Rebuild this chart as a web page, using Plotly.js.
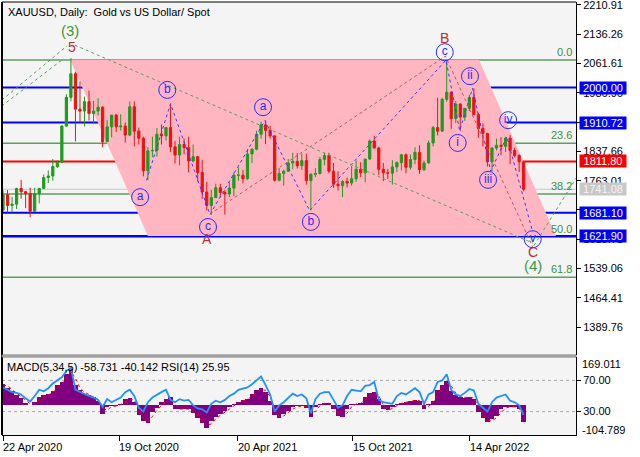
<!DOCTYPE html>
<html><head><meta charset="utf-8">
<script src="https://cdn.plot.ly/plotly-3.0.1.min.js"></script>
<style>html,body{margin:0;padding:0;background:#fff}#chart{width:640px;height:457px}</style>
</head><body><div id="chart"></div>
<script>
// ---- weekly bars (each bar centred on the Wednesday of its week) ----
const firstBar = '2020-04-22';
const opens = [1688,1727,1700,1703,1743,1735,1730,1685,1730,1743,
 1771,1775,1799,1810,1902,1975,2035,1945,1940,1964,
 1934,1940,1950,1862,1900,1930,1900,1902,1879,1951,
 1889,1871,1788,1839,1840,1881,1877,1898,1849,1828,
 1855,1847,1813,1824,1784,1734,1700,1720,1745,1733,
 1729,1744,1777,1777,1768,1831,1843,1881,1905,1891,
 1877,1764,1781,1787,1808,1812,1801,1814,1763,1779,
 1781,1817,1827,1787,1754,1750,1761,1757,1768,1792,
 1783,1818,1864,1846,1792,1783,1782,1798,1809,1829,
 1797,1817,1835,1791,1808,1859,1898,1889,1970,1988,
 1921,1958,1925,1947,1975,1931,1896,1883,1811,1846,
 1853,1850,1871,1840,1827,1811];
const highs = [1739,1739,1722,1745,1765,1737,1745,1745,1745,1779,
 1789,1818,1815,1904,1983,2075,2040,2015,1977,1992,
 1966,1973,1952,1917,1921,1933,1932,1911,1965,1965,
 1898,1875,1848,1875,1897,1906,1900,1959,1864,1875,
 1870,1875,1855,1826,1816,1760,1740,1755,1755,1740,
 1759,1784,1797,1790,1843,1845,1890,1913,1916,1903,
 1877,1795,1791,1818,1834,1833,1832,1832,1782,1795,
 1823,1834,1834,1808,1787,1764,1770,1800,1814,1810,
 1818,1868,1877,1849,1808,1793,1815,1812,1831,1832,
 1830,1848,1853,1814,1865,1902,1974,1974,2070,1990,
 1966,1960,1948,1982,1998,1936,1909,1885,1849,1870,
 1874,1875,1879,1847,1830,1813];
const lows = [1683,1681,1682,1691,1717,1693,1670,1685,1705,1743,
 1757,1763,1795,1807,1900,1965,1863,1911,1901,1916,
 1907,1929,1848,1862,1873,1887,1890,1860,1876,1850,
 1855,1774,1764,1823,1824,1855,1865,1836,1807,1802,
 1830,1784,1810,1760,1717,1687,1676,1719,1720,1677,
 1721,1723,1763,1756,1765,1808,1840,1870,1856,1870,
 1761,1761,1750,1786,1792,1794,1790,1753,1687,1772,
 1779,1802,1782,1745,1738,1721,1746,1750,1760,1772,
 1759,1816,1846,1778,1762,1767,1753,1785,1789,1782,
 1791,1805,1780,1788,1807,1850,1878,1888,1964,1895,
 1910,1890,1915,1940,1930,1872,1850,1799,1786,1840,
 1828,1836,1805,1822,1785,1736];
const closes = [1727,1700,1703,1743,1735,1730,1685,1730,1743,1771,
 1775,1799,1810,1902,1975,2035,1945,1940,1964,1934,
 1940,1950,1862,1900,1930,1900,1902,1879,1951,1889,
 1871,1788,1839,1840,1881,1877,1898,1849,1828,1855,
 1847,1813,1824,1784,1734,1700,1720,1745,1733,1729,
 1744,1777,1777,1768,1831,1843,1881,1905,1891,1877,
 1764,1781,1787,1808,1812,1801,1814,1763,1779,1781,
 1817,1827,1787,1754,1750,1761,1757,1768,1792,1783,
 1818,1864,1846,1792,1783,1782,1798,1809,1829,1797,
 1817,1835,1791,1808,1859,1898,1889,1970,1988,1921,
 1958,1925,1947,1975,1931,1896,1883,1811,1846,1853,
 1850,1871,1840,1827,1811,1741.08];
// ---- indicator window ----
const macdMain = [76,60,48,35,25,8,2,10,28,35,
 38,50,70,80,110,128,70,52,40,35,
 28,15,-30,-8,-3,-2,5,20,25,10,
 -35,-55,-62,-25,-10,10,20,30,-12,-15,
 -12,-15,-28,-45,-62,-80,-55,-40,-32,-20,
 -8,5,12,18,22,40,52,60,45,15,
 -35,-45,-30,-20,-8,-3,-2,-10,-40,-8,
 5,8,6,-15,-38,-40,-15,3,5,8,
 28,42,45,20,-15,-18,-8,5,8,12,
 15,18,15,-12,5,15,52,72,85,50,
 35,28,25,30,20,-25,-45,-60,-50,-38,
 -15,-6,-5,-8,-12,-58.731];
const macdSignal = [70,68,55,42,30,16,5,6,18,30,
 36,44,60,74,95,118,95,60,46,37,
 31,20,-10,-18,-5,-3,2,12,22,18,
 -15,-45,-58,-40,-18,0,15,24,5,-14,
 -13,-14,-22,-36,-54,-72,-66,-48,-36,-26,
 -14,-2,8,15,20,32,46,56,52,30,
 -12,-40,-38,-25,-14,-6,-3,-6,-25,-22,
 -2,6,7,-5,-26,-38,-28,-6,4,6,
 18,35,44,32,2,-16,-12,-2,6,10,
 13,16,16,2,-4,10,34,62,78,68,
 42,32,27,28,25,-2,-35,-52,-55,-45,
 -26,-10,-6,-6,-10,-40.142];
const rsi = [61,58,55,54,52,47,43,50,58,56,
 60,66,70,74,82,86,58,55,52,50,
 48,45,36,46,42,45,48,55,58,50,
 35,30,42,48,52,55,58,45,42,46,
 44,45,38,34,33,29,40,44,42,45,
 50,53,58,60,61,65,70,75,64,52,
 30,38,42,48,53,50,52,47,28,46,
 53,55,55,45,35,38,50,58,57,56,
 63,64,68,45,42,41,40,50,54,52,
 56,60,55,40,52,55,68,70,78,58,
 52,50,54,59,57,40,35,30,42,48,
 50,52,44,42,38,25.95];
// ---- axes ----
const priceTicks = [2210.91,2136.26,2061.61,1986.96,1912.31,1837.66,1763.01,1688.36,1613.71,1539.06,1464.41,1389.76];
const hiddenTicks = [1912.31, 1688.36]; // fully covered by level boxes in the reference
const dateTicks = ['2020-04-22','2020-10-19','2021-04-20','2021-10-15','2022-04-14'];
const dateTickText = ['22 Apr 2020','19 Oct 2020','20 Apr 2021','15 Oct 2021','14 Apr 2022'];
const rsiLevels = [70, 30];
const macdScale = [-104.789, 169.011];
// ---- horizontal levels ----
const levelPrices = [2000.00, 1910.72, 1811.80, 1741.08, 1681.10, 1621.90];
const levelColors = ['#0000ff','#0000ff','#ff0000','#c8c8c8','#0000ff','#0000ff'];
const fibNames = ['0.0','23.6','38.2','50.0','61.8'];
const fibPrices = [2070, 1858, 1729, 1619, 1517];
// ---- channel (pink) ----
const channelDates = ['2020-08-04','2022-04-28','2022-08-25','2020-12-02'];
const channelPrices = [2070, 2070, 1622, 1622];
// ---- wave labelling ----
const circleText = ['a','b','c','a','b','c','i','ii','iii','iv','v'];
const circleDates = ['2020-11-20','2021-01-01','2021-03-05','2021-05-29','2021-08-11','2022-03-06','2022-03-26','2022-04-14','2022-05-12','2022-06-12','2022-07-20'];
const circlePrices = [1721,1994,1645,1950,1658,2090,1859,2029,1765,1917,1614];
const waveText = ['(3)','5','B','A','C','(4)'];
const waveDates = ['2020-08-03','2020-08-06','2022-03-06','2021-03-03','2022-07-20','2022-07-20'];
const wavePrices = [2146,2103,2126,1614,1581,1546];
const waveColors = ['#3a9a40','#b8312f','#b8312f','#b8312f','#b8312f','#3a9a40'];
// sub-wave zigzag (blue dashed)
const zigDates = ['2020-11-30','2021-01-06','2021-03-08','2021-06-01','2021-08-09','2022-03-08','2022-03-29','2022-04-18','2022-05-16','2022-06-10','2022-07-20'];
const zigPrices = [1764,1959,1677,1916,1687,2070,1890,1998,1787,1875,1632];
// major-wave lines (brown dashed)
const majorDates = ['2021-03-08','2022-03-07','2022-07-20'];
const majorPrices = [1678,2080,1594];
// degree lines (green dashed): pairs
const greenLines = [
  [['2020-04-20',1968],['2020-07-30',2106]],
  [['2020-04-20',1953],['2020-07-22',2070]],
  [['2020-08-11',2108],['2022-07-20',1604]],
  [['2022-07-22',1598],['2022-09-26',1772]]
];

const DAY = 864e5;
const t0 = Date.parse(firstBar + 'T00:00:00Z');
const barDates = opens.map((_, k) => new Date(t0 + k * 7 * DAY).toISOString().slice(0, 10));

const traces = [];
traces.push({type:'candlestick', x: barDates, open: opens, high: highs, low: lows, close: closes,
  xaxis:'x', yaxis:'y', whiskerwidth: 0,
  increasing:{line:{color:'#1f9a1f', width:1}, fillcolor:'#1f9a1f'},
  decreasing:{line:{color:'#ee1111', width:1}, fillcolor:'#ee1111'},
  hoverinfo:'skip'});
traces.push({type:'scatter', mode:'lines', x: zigDates, y: zigPrices, xaxis:'x', yaxis:'y',
  line:{color:'#3a3aff', width:1, dash:'3px,3px'}, hoverinfo:'skip'});
traces.push({type:'scatter', mode:'lines', x: majorDates, y: majorPrices, xaxis:'x', yaxis:'y',
  line:{color:'#b85a5a', width:1, dash:'3px,3px'}, hoverinfo:'skip'});
greenLines.forEach(seg => traces.push({type:'scatter', mode:'lines', x: seg.map(p=>p[0]), y: seg.map(p=>p[1]),
  xaxis:'x', yaxis:'y', line:{color:'#5a9e5a', width:1, dash:'3px,3px'}, hoverinfo:'skip', cliponaxis:true}));
traces.push({type:'scatter', mode:'markers+text', x: circleDates, y: circlePrices, text: circleText,
  xaxis:'x', yaxis:'y', textposition:'middle center',
  textfont:{family:'Liberation Sans, Arial, sans-serif', size:12, color:'#2a2aff'},
  marker:{symbol:'circle-open', size:17, color:'#2a2aff', line:{width:1, color:'#2a2aff'}}, hoverinfo:'skip'});
traces.push({type:'bar', x: barDates, y: macdMain, xaxis:'x', yaxis:'y2', width: 7*DAY,
  marker:{color:'#800080', line:{width:0}}, hoverinfo:'skip'});
traces.push({type:'scatter', mode:'lines', x: barDates, y: macdSignal, xaxis:'x', yaxis:'y2',
  line:{color:'#ff0000', width:1, dash:'dot'}, hoverinfo:'skip'});
traces.push({type:'scatter', mode:'lines', x: barDates, y: rsi, xaxis:'x', yaxis:'y3',
  line:{color:'#1e90ff', width:1.8}, hoverinfo:'skip'});

const pathStr = 'M' + channelDates.map((d,i)=> d + ',' + channelPrices[i]).join('L') + 'Z';
const shapes = [];
shapes.push({type:'path', path: pathStr, xref:'x', yref:'y', fillcolor:'#ffb6c1', line:{width:0}, layer:'below'});
fibPrices.forEach(p => shapes.push({type:'line', xref:'paper', yref:'y', x0:0, x1:1, y0:p, y1:p, line:{color:'#5f9f5f', width:1.5}, layer:'below'}));
levelPrices.forEach((p,i) => shapes.push({type:'line', xref:'paper', yref:'y', x0:0, x1:1, y0:p, y1:p,
  line:{color: levelColors[i], width: levelColors[i] === '#c8c8c8' ? 1 : 2}, layer:'below'}));
rsiLevels.forEach(v => shapes.push({type:'line', xref:'paper', yref:'y3', x0:0, x1:1, y0:v, y1:v, line:{color:'#a8a8a8', width:1, dash:'3px,3px'}, layer:'below'}));
// frame
shapes.push({type:'line', xref:'paper', yref:'paper', x0:0, x1:0, y0:0, y1:1, line:{color:'#000', width:2}});
shapes.push({type:'line', xref:'paper', yref:'paper', x0:0, x1:1, y0:1, y1:1, line:{color:'#000', width:1}});
shapes.push({type:'rect', xref:'paper', yref:'paper', x0:0, x1:1, y0:0.1801, y1:0.1848, fillcolor:'#c4c4c4', line:{color:'#7a7a7a', width:1}});

const ann = [];
ann.push({xref:'paper', yref:'paper', x:0, y:1, xanchor:'left', yanchor:'top', xshift:4, yshift:-2, showarrow:false,
  text:'XAUUSD, Daily:  Gold vs US Dollar/ Spot', font:{size:11, color:'#000'}});
ann.push({xref:'paper', yref:'paper', x:0, y:0.1801, xanchor:'left', yanchor:'top', xshift:3, yshift:-2, showarrow:false,
  text:'MACD(5,34,5) -58.731 -40.142 RSI(14) 25.95', font:{size:11, color:'#000'}});
levelPrices.forEach((p,i) => ann.push({xref:'paper', yref:'y', x:1, y:p, xanchor:'left', yanchor:'middle', xshift:3, showarrow:false,
  text: p.toFixed(2), bgcolor: levelColors[i], width:46, height:12, borderpad:0,
  font:{size:11, color: levelColors[i] === '#c8c8c8' ? '#f4f4f4' : '#ffffff'}}));
fibNames.forEach((n,i) => ann.push({xref:'paper', yref:'y', x:1, y:fibPrices[i], xanchor:'right', yanchor:'bottom', xshift:-2, yshift:0, showarrow:false,
  text:n, font:{size:11, color:'#3f8f3f'}}));
waveText.forEach((t,i) => ann.push({xref:'x', yref:'y', x:waveDates[i], y:wavePrices[i], showarrow:false,
  text:t, font:{size: t.length > 1 ? 15 : 14, color: waveColors[i]}}));
ann.push({xref:'paper', yref:'y2', x:1, y:144, xanchor:'left', xshift:4, showarrow:false, text:'169.011', font:{size:11}});
ann.push({xref:'paper', yref:'y2', x:1, y:-86, xanchor:'left', xshift:4, showarrow:false, text:'-104.789', font:{size:11}});
dateTicks.forEach((d,i) => ann.push({xref:'x', yref:'paper', x:d, y:0, xanchor:'left', yanchor:'top', xshift:-2, yshift:-4, showarrow:false,
  text: dateTickText[i], font:{size:11, color:'#000'}}));

const layout = {
  width:640, height:457,
  margin:{l:2, r:64, t:2, b:22, pad:0},
  paper_bgcolor:'#ffffff', plot_bgcolor:'#f4f4f4',
  showlegend:false, bargap:0,
  font:{family:'Liberation Sans, Arial, sans-serif', size:11, color:'#000'},
  xaxis:{type:'date', range:['2020-04-20 11:00','2022-09-24 22:00'], anchor:'y2', showgrid:false, zeroline:false,
    showline:true, linecolor:'#000', linewidth:1, ticks:'outside', ticklen:5, tickcolor:'#000',
    tickvals: dateTicks, showticklabels:false, rangeslider:{visible:false}, fixedrange:true},
  yaxis:{domain:[0.1848,1], range:[1319.2,2217.8], side:'right', anchor:'x', showgrid:false, zeroline:false,
    showline:true, linecolor:'#000', linewidth:1, ticks:'outside', ticklen:4, tickcolor:'#000',
    ticklabeloverflow:'allow',
    tickvals: priceTicks, ticktext: priceTicks.map(v => hiddenTicks.includes(v) ? '' : v.toFixed(2)),
    tickfont:{size:11, color:'#000'}, fixedrange:true},
  yaxis2:{domain:[0,0.1801], range: macdScale, side:'right', anchor:'x', showgrid:false, zeroline:false,
    showline:true, linecolor:'#000', linewidth:1, showticklabels:false, ticks:'', fixedrange:true},
  yaxis3:{overlaying:'y2', range:[0,100], side:'right', anchor:'x', showgrid:false, zeroline:false, showline:false,
    tickvals: rsiLevels, ticktext: rsiLevels.map(v=>v.toFixed(2)), ticks:'outside', ticklen:4, tickcolor:'#000',
    tickfont:{size:11, color:'#000'}, fixedrange:true},
  shapes: shapes, annotations: ann
};
Plotly.newPlot('chart', traces, layout, {staticPlot:true, displayModeBar:false});
</script></body></html>
